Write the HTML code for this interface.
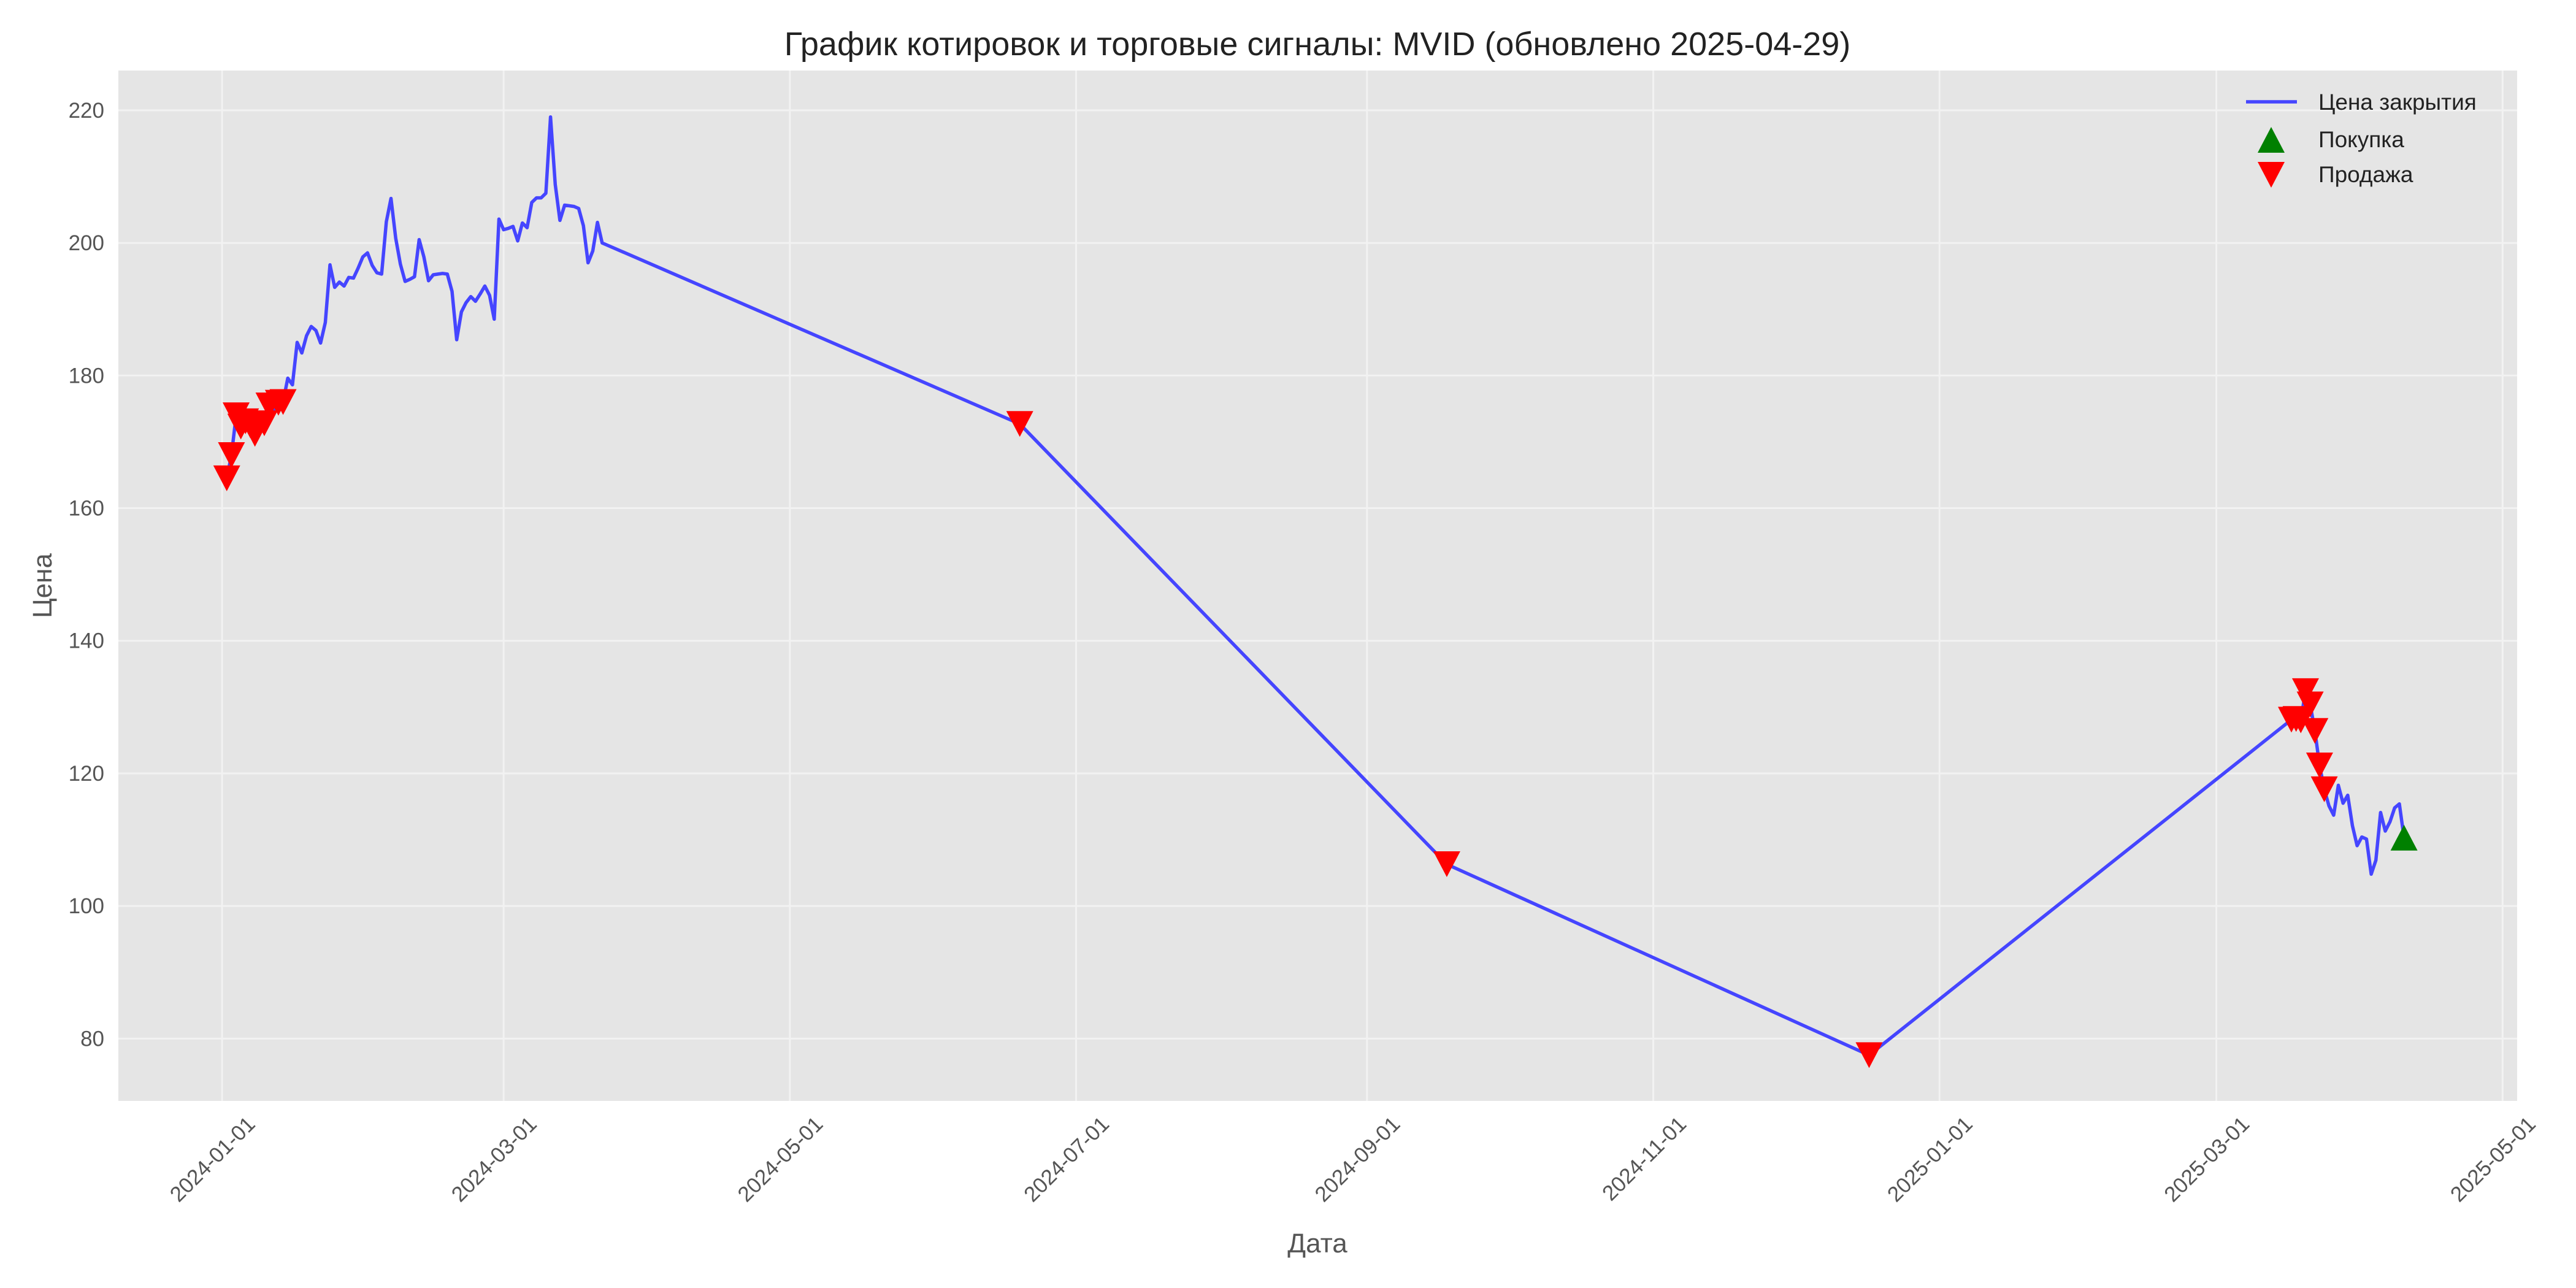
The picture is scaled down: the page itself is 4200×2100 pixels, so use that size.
<!DOCTYPE html>
<html><head><meta charset="utf-8"><style>
html,body{margin:0;padding:0;background:#fff;}
svg{display:block;font-family:"Liberation Sans","DejaVu Sans",sans-serif;}
</style></head><body>
<svg id="chart" width="4200" height="2100" viewBox="0 0 4200 2100" xmlns="http://www.w3.org/2000/svg">
<rect x="193" y="115" width="3911" height="1680" fill="#e5e5e5"/>
<g id="grid"></g>
<g id="xticks"></g>
<g id="yticks"></g>
<g id="series"></g>
<text x="2148" y="90" font-size="54" fill="#222" text-anchor="middle">График котировок и торговые сигналы: MVID (обновлено 2025-04-29)</text>
<text x="2148" y="2042" font-size="44" fill="#555" text-anchor="middle">Дата</text>
<text x="0" y="0" font-size="44" fill="#555" text-anchor="middle" transform="translate(84,955) rotate(-90)">Цена</text>
<g>
<line x1="3662" y1="166" x2="3745" y2="166" stroke="#4545ff" stroke-width="5.5"/>
<text x="3780" y="179" font-size="37" fill="#222">Цена закрытия</text>
<polygon points="3703,207 3725,249 3681,249" fill="#008000"/>
<text x="3780" y="240" font-size="37" fill="#222">Покупка</text>
<polygon points="3681,264 3725,264 3703,306" fill="#ff0000"/>
<text x="3780" y="297" font-size="37" fill="#222">Продажа</text>
</g>
</svg>
<script>
// days since 2024-01-01
const days = [1,2,3,4,5,6,7,8,9,10,11,12,13,14,15,16,17,18,19,20,21,22,23,24,25,26,27,28,29,30,31,32,33,34,35,36,37,38,39,40,41,42,43,44,45,46,47,48,49,50,51,52,53,54,55,56,57,58,59,60,61,62,63,64,65,66,67,68,69,70,71,72,73,74,75,76,77,78,79,80,81,170,261,351,441,442,443,444,445,446,447,448,449,450,451,452,453,454,455,456,457,458,459,460,461,462,463,464,465];
const closes = [164.5,168,174,172.3,173.1,172.5,171.2,172,172.8,175.5,174.8,175.9,176,179.6,178.6,185,183.4,186,187.4,186.8,184.9,188,196.7,193.3,194.1,193.5,194.8,194.7,196.2,197.9,198.5,196.6,195.5,195.3,203.2,206.7,200.7,196.8,194.2,194.5,194.9,200.5,197.9,194.3,195.2,195.3,195.4,195.3,192.7,185.4,189.6,191,191.9,191.2,192.3,193.5,192.1,188.5,203.6,202,202.2,202.5,200.3,203,202.3,206.1,206.8,206.8,207.5,219,208.8,203.4,205.7,205.6,205.5,205.2,202.6,197,198.8,203.1,200,172.7,106.3,77.5,128.1,128.2,128,132.4,130.4,126.4,121.2,117.6,115.1,113.7,118.2,115.5,116.7,112.1,109.1,110.4,110.1,104.8,106.9,114.1,111.3,112.7,114.8,115.4,110.3];
const sellDays = [1,2,3,4,5,6,7,9,10,12,13,170,261,351,441,442,443,444,445,446,447,448];
const buyDays = [465];
const xTickDays = [0,60,121,182,244,305,366,425,486];
const xTickLabels = ["2024-01-01","2024-03-01","2024-05-01","2024-07-01","2024-09-01","2024-11-01","2025-01-01","2025-03-01","2025-05-01"];
const yTickValues = [80,100,120,140,160,180,200,220];

const NS="http://www.w3.org/2000/svg";
const X0=193,X1=4104,Y0=115,Y1=1795;
const DMIN=-22.1,DMAX=489.1,VMIN=70.6,VMAX=226.0;
function xs(d){return X0+(d-DMIN)/(DMAX-DMIN)*(X1-X0);}
function ys(v){return Y1-(v-VMIN)/(VMAX-VMIN)*(Y1-Y0);}
function mk(tag,attrs,parent){const e=document.createElementNS(NS,tag);for(const k in attrs)e.setAttribute(k,attrs[k]);parent.appendChild(e);return e;}
const grid=document.getElementById('grid'),xt=document.getElementById('xticks'),yt=document.getElementById('yticks'),ser=document.getElementById('series');
xTickDays.forEach((d,i)=>{
  const x=xs(d);
  const g=mk('line',{x1:x,y1:Y0,x2:x,y2:Y1,stroke:'#f2f2f2','stroke-width':3},grid);
  
  
  const t=mk('text',{x:0,y:0,'font-size':35,fill:'#555','text-anchor':'end',transform:`translate(${x+56},${Y1+40}) rotate(-45)`},xt);
  t.textContent=xTickLabels[i];
  
  
});
yTickValues.forEach(v=>{
  const y=ys(v);
  const g=mk('line',{x1:X0,y1:y,x2:X1,y2:y,stroke:'#f2f2f2','stroke-width':3},grid);
  
  
  const t=mk('text',{x:170,y:y+12,'font-size':35,fill:'#555','text-anchor':'end'},yt);
  t.textContent=String(v);
  
  
});
const pts=days.map((d,i)=>xs(d).toFixed(1)+','+ys(closes[i]).toFixed(1)).join(' ');
const line=mk('polyline',{points:pts,fill:'none',stroke:'#4545ff','stroke-width':5.5,'stroke-linejoin':'round'},ser);


function valAt(d){return closes[days.indexOf(d)];}
sellDays.forEach(d=>{
  const x=xs(d),y=ys(valAt(d));
  const p=mk('polygon',{points:`${x-22},${y-21} ${x+22},${y-21} ${x},${y+21}`,fill:'#ff0000'},ser);
  
  
});
buyDays.forEach(d=>{
  const x=xs(d),y=ys(valAt(d));
  const p=mk('polygon',{points:`${x},${y-21} ${x+22},${y+21} ${x-22},${y+21}`,fill:'#008000'},ser);
  
  
});
</script>
</body></html>
